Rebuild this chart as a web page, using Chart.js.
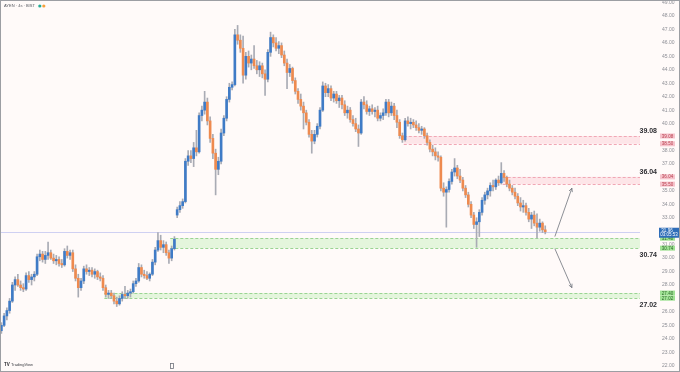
<!DOCTYPE html>
<html>
<head>
<meta charset="utf-8">
<title>AYEN 4s BIST</title>
<script src="https://cdn.jsdelivr.net/npm/chart.js@4.4.1/dist/chart.umd.min.js"></script>
<style>
  html, body { margin: 0; padding: 0; background: #fffaf9; }
  canvas { display: block; }
</style>
</head>
<body>
<canvas id="chart" width="680" height="372"></canvas>
<script>
// 4h candles (TL)
const opens = [
  24.6, 25.0, 25.7, 26.1, 26.8, 28.0, 28.4, 28.0, 27.8, 27.7,
  28.7, 28.4, 28.6, 28.8, 30.1, 30.3, 29.9, 30.2, 30.4, 30.0,
  29.8, 29.9, 29.6, 29.5, 30.5, 30.2, 30.4, 29.2, 28.5, 27.8,
  28.3, 29.2, 29.0, 29.1, 28.8, 29.0, 28.6, 28.5, 27.8, 27.3,
  27.4, 27.2, 26.8, 26.6, 27.0, 27.3, 27.2, 27.4, 27.5, 28.1,
  28.3, 29.3, 28.8, 28.7, 28.5, 28.8, 29.7, 30.6, 31.3, 30.8,
  31.0, 30.4, 30.0, 30.7, 33.2, 33.6, 33.9, 34.2, 37.2, 37.6,
  37.4, 38.2, 37.9, 40.6, 41.0, 41.6, 40.2, 38.9, 37.8, 36.6,
  37.2, 39.3, 40.4, 41.8, 42.7, 42.9, 46.6, 46.2, 45.6, 43.6,
  45.0, 44.5, 44.8, 44.3, 44.0, 44.3, 43.7, 43.3, 45.3, 46.4,
  46.0, 45.6, 45.8, 45.1, 44.5, 43.8, 44.1, 43.2, 42.4, 41.8,
  41.3, 40.8, 40.1, 39.2, 38.7, 39.2, 39.8, 41.0, 42.8, 42.3,
  42.6, 41.9, 42.2, 41.7, 41.9, 41.4, 40.8, 41.0, 40.3, 40.0,
  39.6, 39.3, 41.6, 41.4, 40.9, 41.1, 40.9, 41.0, 40.4, 40.6,
  40.8, 41.6, 40.8, 41.3, 40.6, 40.1, 39.1, 38.8, 40.2, 40.0,
  40.1, 39.9, 39.7, 39.5, 39.6, 39.1, 38.6, 38.1, 37.9, 37.6,
  37.5, 35.2, 34.9, 35.1, 35.7, 36.4, 36.7, 36.1, 35.8, 35.2,
  34.7, 34.0, 33.2, 32.5, 32.7, 33.4, 34.3, 34.7, 35.0, 35.4,
  35.3, 35.8, 35.6, 36.3, 36.0, 35.5, 35.2, 34.9, 34.6, 34.1,
  33.8, 33.9, 33.4, 32.9, 33.2, 32.6, 32.3, 32.6, 32.1
];
const highs = [
  25.2, 25.9, 26.3, 27.0, 28.2, 28.6, 28.8, 28.3, 28.1, 28.9,
  29.0, 28.8, 29.0, 30.3, 30.6, 30.5, 30.5, 31.2, 30.6, 30.3,
  30.2, 30.1, 29.9, 30.7, 30.9, 30.6, 30.6, 29.5, 28.8, 28.5,
  29.4, 29.5, 29.3, 29.3, 29.2, 29.1, 28.9, 28.7, 28.0, 27.6,
  27.6, 27.4, 27.1, 27.2, 27.5, 27.9, 27.6, 27.7, 28.3, 28.5,
  29.6, 29.5, 29.1, 29.0, 28.9, 29.9, 30.8, 31.9, 31.7, 31.3,
  31.2, 30.6, 30.9, 31.6, 33.8, 34.2, 34.4, 37.4, 38.0, 38.0,
  38.6, 39.5, 40.8, 41.3, 42.4, 41.9, 40.5, 39.2, 38.1, 37.5,
  39.6, 40.6, 42.0, 43.0, 43.1, 47.0, 47.3, 46.6, 46.5, 45.3,
  45.4, 45.1, 45.8, 44.7, 44.6, 44.5, 44.0, 45.5, 46.8, 46.6,
  46.4, 46.1, 46.0, 45.4, 44.8, 44.4, 44.2, 43.4, 42.6, 42.2,
  41.6, 41.0, 40.3, 39.5, 39.5, 40.0, 41.2, 43.1, 43.0, 42.9,
  42.8, 42.4, 42.4, 42.1, 42.1, 41.7, 41.3, 41.2, 40.6, 40.4,
  39.9, 41.8, 42.0, 41.7, 41.3, 41.4, 41.2, 41.3, 40.8, 41.1,
  41.8, 41.8, 41.6, 41.5, 41.0, 40.3, 39.3, 40.4, 40.5, 40.4,
  40.3, 40.2, 40.0, 39.8, 39.7, 39.3, 38.8, 38.4, 38.2, 37.9,
  37.6, 35.6, 35.3, 35.9, 36.6, 37.4, 36.9, 36.6, 36.0, 35.4,
  34.9, 34.2, 33.4, 33.0, 33.6, 34.5, 34.9, 35.2, 35.6, 35.8,
  35.9, 36.1, 37.1, 36.5, 36.1, 35.8, 35.4, 35.2, 34.8, 34.5,
  34.3, 34.1, 33.7, 33.4, 33.5, 33.3, 32.9, 32.7, 32.4
];
const lows = [
  24.4, 24.9, 25.4, 25.9, 26.7, 27.6, 27.9, 27.6, 27.5, 27.6,
  28.2, 28.0, 28.3, 28.7, 29.8, 29.7, 29.6, 29.9, 29.9, 29.6,
  29.5, 29.4, 29.3, 29.4, 30.0, 29.9, 29.0, 28.3, 27.1, 27.6,
  28.1, 28.8, 28.7, 28.6, 28.5, 28.4, 28.3, 27.6, 27.1, 27.0,
  27.0, 26.6, 26.4, 26.5, 26.8, 27.0, 27.0, 27.1, 27.4, 27.9,
  28.2, 28.6, 28.5, 28.4, 28.3, 28.7, 29.5, 30.5, 30.6, 30.4,
  30.2, 29.6, 29.8, 30.6, 33.0, 33.4, 33.7, 34.1, 36.9, 37.1,
  36.8, 37.6, 37.8, 40.2, 40.7, 39.9, 38.6, 37.4, 34.7, 36.2,
  37.0, 39.1, 40.2, 41.6, 42.5, 42.8, 45.9, 45.3, 43.0, 43.3,
  44.2, 44.0, 44.1, 43.7, 43.5, 43.4, 42.1, 43.1, 45.0, 45.7,
  45.4, 45.2, 44.9, 44.3, 42.6, 43.5, 43.0, 42.2, 41.5, 41.0,
  39.6, 39.9, 39.0, 37.8, 38.5, 39.0, 39.6, 40.9, 42.0, 42.0,
  41.7, 41.6, 41.5, 41.2, 41.1, 40.6, 40.4, 40.1, 39.8, 39.4,
  38.3, 39.2, 41.1, 40.7, 40.6, 40.7, 40.5, 40.2, 40.2, 40.3,
  40.6, 40.5, 40.6, 40.3, 39.7, 38.9, 38.6, 38.7, 39.8, 39.6,
  39.7, 39.5, 39.3, 39.2, 38.9, 38.4, 37.9, 37.6, 37.3, 37.2,
  35.0, 34.6, 32.3, 34.9, 35.5, 36.1, 35.9, 35.6, 35.0, 34.5,
  33.8, 33.0, 32.2, 30.8, 31.6, 33.2, 34.0, 34.4, 34.6, 35.0,
  35.1, 35.4, 35.5, 35.7, 35.3, 35.0, 34.7, 34.4, 33.9, 33.5,
  33.4, 33.2, 32.7, 32.2, 32.4, 31.5, 32.0, 31.9, 31.8
];
const closes = [
  25.0, 25.7, 26.1, 26.8, 28.0, 28.4, 28.0, 27.8, 27.7, 28.7,
  28.4, 28.6, 28.8, 30.1, 30.3, 29.9, 30.2, 30.4, 30.0, 29.8,
  29.9, 29.6, 29.5, 30.5, 30.2, 30.4, 29.2, 28.5, 27.8, 28.3,
  29.2, 29.0, 29.1, 28.8, 29.0, 28.6, 28.5, 27.8, 27.3, 27.4,
  27.2, 26.8, 26.6, 27.0, 27.3, 27.2, 27.4, 27.5, 28.1, 28.3,
  29.3, 28.8, 28.7, 28.5, 28.8, 29.7, 30.6, 31.3, 30.8, 31.0,
  30.4, 30.0, 30.7, 31.4, 33.6, 33.9, 34.2, 37.2, 37.6, 37.4,
  38.2, 37.9, 40.6, 41.0, 41.6, 40.2, 38.9, 37.8, 36.6, 37.2,
  39.3, 40.4, 41.8, 42.7, 42.9, 46.6, 46.2, 45.6, 43.6, 45.0,
  44.5, 44.8, 44.3, 44.0, 44.3, 43.7, 43.3, 45.3, 46.4, 46.0,
  45.6, 45.8, 45.1, 44.5, 43.8, 44.1, 43.2, 42.4, 41.8, 41.3,
  40.8, 40.1, 39.2, 38.7, 39.2, 39.8, 41.0, 42.8, 42.3, 42.6,
  41.9, 42.2, 41.7, 41.9, 41.4, 40.8, 41.0, 40.3, 40.0, 39.6,
  39.3, 41.6, 41.4, 40.9, 41.1, 40.9, 41.0, 40.4, 40.6, 40.8,
  41.6, 40.8, 41.3, 40.6, 40.1, 39.1, 38.8, 40.2, 40.0, 40.1,
  39.9, 39.7, 39.5, 39.6, 39.1, 38.6, 38.1, 37.9, 37.6, 37.5,
  35.2, 34.9, 35.1, 35.7, 36.4, 36.7, 36.1, 35.8, 35.2, 34.7,
  34.0, 33.2, 32.5, 32.7, 33.4, 34.3, 34.7, 35.0, 35.4, 35.3,
  35.8, 35.6, 36.3, 36.0, 35.5, 35.2, 34.9, 34.6, 34.1, 33.8,
  33.9, 33.4, 32.9, 33.2, 32.6, 32.3, 32.6, 32.1, 31.96
];

const yTicks = [22, 23, 24, 25, 26, 27, 28, 29, 30, 31, 32, 33, 34, 35,
  36, 37, 38, 39, 40, 41, 42, 43, 44, 45, 46, 47, 48, 49];

// supply / demand zones: low, high, first candle index
const zoneLows = [38.50, 35.50, 30.74, 27.02];
const zoneHighs = [39.08, 36.04, 31.48, 27.40];
const zoneStarts = [147, 183, 62, 38];
const zoneKinds = ['supply', 'supply', 'demand', 'demand'];

// projection arrows: [index, price] from -> to
const arrowFrom = [[201.5, 31.6], [201.5, 30.7]];
const arrowTo = [[207.7, 35.2], [207.7, 27.8]];

const countdown = '03:05:53';
const totalSlots = 233;

const labels = [];
for (let i = 0; i < totalSlots; i++) labels.push(String(i));
const pad = arr => arr.concat(new Array(totalSlots - arr.length).fill(null));

const UP = '#3f7bc6';
const DOWN = '#ee8a4f';
const WICK = '#a9abb4';

const bodies = opens.map((o, i) => [o, closes[i]]);
const wicks = lows.map((l, i) => [l, highs[i]]);
const bodyColors = opens.map((o, i) => closes[i] >= o ? UP : DOWN);

const zoneStyle = {
  supply: { fill: 'rgba(250, 200, 210, 0.42)', line: '#f1a7b5', tag: '#f6c3cc', tagText: '#b8404f' },
  demand: { fill: 'rgba(190, 238, 180, 0.42)', line: '#9ad492', tag: '#9fe294', tagText: '#2d6a2a' }
};

function tag(ctx, x, y, w, h, bg, color, text) {
  ctx.fillStyle = bg;
  ctx.fillRect(x, y - h / 2, w, h);
  ctx.fillStyle = color;
  ctx.textAlign = 'center';
  ctx.textBaseline = 'middle';
  ctx.fillText(text, x + w / 2, y + 0.3);
}

const overlay = {
  id: 'overlay',
  beforeDraw(chart) {
    const ctx = chart.ctx;
    ctx.save();
    ctx.fillStyle = '#fffaf9';
    ctx.fillRect(0, 0, chart.width, chart.height);
    ctx.restore();
  },
  beforeDatasetsDraw(chart) {
    const { ctx, chartArea: a, scales: { x, y } } = chart;
    const slot = (a.right - a.left) / totalSlots;
    ctx.save();
    zoneLows.forEach((lo, k) => {
      const st = zoneStyle[zoneKinds[k]];
      const x0 = x.getPixelForValue(zoneStarts[k]) - slot / 2;
      const yt = y.getPixelForValue(zoneHighs[k]);
      const yb = y.getPixelForValue(lo);
      ctx.fillStyle = st.fill;
      ctx.fillRect(x0, yt, a.right - x0, yb - yt);
      ctx.strokeStyle = st.line;
      ctx.lineWidth = 1;
      ctx.setLineDash([3, 2]);
      [yt, yb].forEach(yy => {
        ctx.beginPath();
        ctx.moveTo(x0, Math.round(yy) + 0.5);
        ctx.lineTo(a.right, Math.round(yy) + 0.5);
        ctx.stroke();
      });
    });
    ctx.setLineDash([]);
    // last price line
    const yp = Math.round(y.getPixelForValue(closes[closes.length - 1])) + 0.5;
    ctx.strokeStyle = '#cfd0f2';
    ctx.beginPath();
    ctx.moveTo(a.left, yp);
    ctx.lineTo(a.right, yp);
    ctx.stroke();
    ctx.restore();
  },
  afterDraw(chart) {
    const { ctx, chartArea: a, scales: { x, y } } = chart;
    ctx.save();

    // arrows
    ctx.strokeStyle = '#6f737c';
    ctx.fillStyle = '#6f737c';
    ctx.lineWidth = 0.8;
    arrowFrom.forEach((f, k) => {
      const x1 = x.getPixelForValue(f[0]), y1 = y.getPixelForValue(f[1]);
      const x2 = x.getPixelForValue(arrowTo[k][0]), y2 = y.getPixelForValue(arrowTo[k][1]);
      ctx.beginPath();
      ctx.moveTo(x1, y1);
      ctx.lineTo(x2, y2);
      ctx.stroke();
      const ang = Math.atan2(y2 - y1, x2 - x1);
      ctx.beginPath();
      ctx.moveTo(x2, y2);
      ctx.lineTo(x2 - 4 * Math.cos(ang - 0.45), y2 - 4 * Math.sin(ang - 0.45));
      ctx.moveTo(x2, y2);
      ctx.lineTo(x2 - 4 * Math.cos(ang + 0.45), y2 - 4 * Math.sin(ang + 0.45));
      ctx.stroke();
    });

    // bold level labels
    ctx.font = 'bold 7px "Liberation Sans", Arial, sans-serif';
    ctx.fillStyle = '#2e2e33';
    ctx.textAlign = 'right';
    zoneLows.forEach((lo, k) => {
      if (zoneKinds[k] === 'supply') {
        ctx.textBaseline = 'bottom';
        ctx.fillText(zoneHighs[k].toFixed(2), a.right + 17, y.getPixelForValue(zoneHighs[k]) - 1);
      } else {
        ctx.textBaseline = 'top';
        ctx.fillText(lo.toFixed(2), a.right + 17, y.getPixelForValue(lo) + 3);
      }
    });

    // price-axis tags
    ctx.font = '4.5px "Liberation Sans", Arial, sans-serif';
    zoneLows.forEach((lo, k) => {
      const st = zoneStyle[zoneKinds[k]];
      tag(ctx, a.right + 20, y.getPixelForValue(zoneHighs[k]), 15, 5, st.tag, st.tagText, zoneHighs[k].toFixed(2));
      tag(ctx, a.right + 20, y.getPixelForValue(lo), 15, 5, st.tag, st.tagText, lo.toFixed(2));
    });
    const yl = y.getPixelForValue(closes[closes.length - 1]);
    ctx.fillStyle = '#2f6db8';
    ctx.fillRect(a.right + 19, yl - 4, 20, 10);
    ctx.fillStyle = '#ffffff';
    ctx.textAlign = 'center';
    ctx.textBaseline = 'middle';
    ctx.fillText(closes[closes.length - 1].toFixed(2), a.right + 27, yl - 1);
    ctx.fillText(countdown, a.right + 29, yl + 3.5);

    // title
    ctx.font = '4px "Liberation Sans", Arial, sans-serif';
    ctx.textAlign = 'left';
    ctx.textBaseline = 'middle';
    ctx.fillStyle = '#55585f';
    const title = 'AYEN · 4s · BIST';
    ctx.fillText(title, 4, 6);
    const tw = ctx.measureText(title).width;
    ctx.fillStyle = '#22ab94';
    ctx.beginPath(); ctx.arc(4 + tw + 5, 6, 1.6, 0, Math.PI * 2); ctx.fill();
    ctx.fillStyle = '#f5a03a';
    ctx.beginPath(); ctx.arc(4 + tw + 9, 6, 1.6, 0, Math.PI * 2); ctx.fill();

    // watermark
    ctx.fillStyle = '#1e1f24';
    ctx.font = 'bold 4.5px "Liberation Sans", Arial, sans-serif';
    ctx.fillText('TV', 4, 365);
    ctx.font = '4px "Liberation Sans", Arial, sans-serif';
    ctx.fillStyle = '#3c3e44';
    ctx.fillText('TradingView', 11, 365);

    // small marker at the bottom
    ctx.strokeStyle = '#6f737c';
    ctx.lineWidth = 0.8;
    ctx.strokeRect(170.5, 363.5, 3, 5);

    // frame
    ctx.strokeStyle = '#9c9ea3';
    ctx.lineWidth = 1;
    ctx.strokeRect(0.5, 0.5, chart.width - 1, chart.height - 1);
    ctx.restore();
  }
};

new Chart(document.getElementById('chart'), {
  type: 'bar',
  data: {
    labels: labels,
    datasets: [
      {
        label: 'body',
        data: pad(bodies),
        backgroundColor: bodyColors,
        barThickness: 2,
        minBarLength: 1,
        grouped: false,
        order: 0
      },
      {
        label: 'wick',
        data: pad(wicks),
        backgroundColor: WICK,
        barThickness: 1,
        grouped: false,
        order: 1
      }
    ]
  },
  options: {
    responsive: false,
    animation: false,
    layout: { padding: { left: 0, right: 0, top: 0, bottom: 2 } },
    plugins: { legend: { display: false }, tooltip: { enabled: false } },
    scales: {
      x: { display: false },
      y: {
        position: 'right',
        min: 21.68,
        max: 49.19,
        grid: { display: false, drawTicks: false },
        border: { display: false },
        afterBuildTicks: s => { s.ticks = yTicks.map(v => ({ value: v })); },
        afterFit: s => { s.width = 40; s.paddingTop = 0; s.paddingBottom = 0; },
        ticks: {
          autoSkip: false,
          padding: 22,
          color: '#8d8f96',
          font: { size: 5, family: '"Liberation Sans", Arial, sans-serif' },
          callback: v => Number(v).toFixed(2)
        }
      }
    }
  },
  plugins: [overlay]
});
</script>
</body>
</html>
